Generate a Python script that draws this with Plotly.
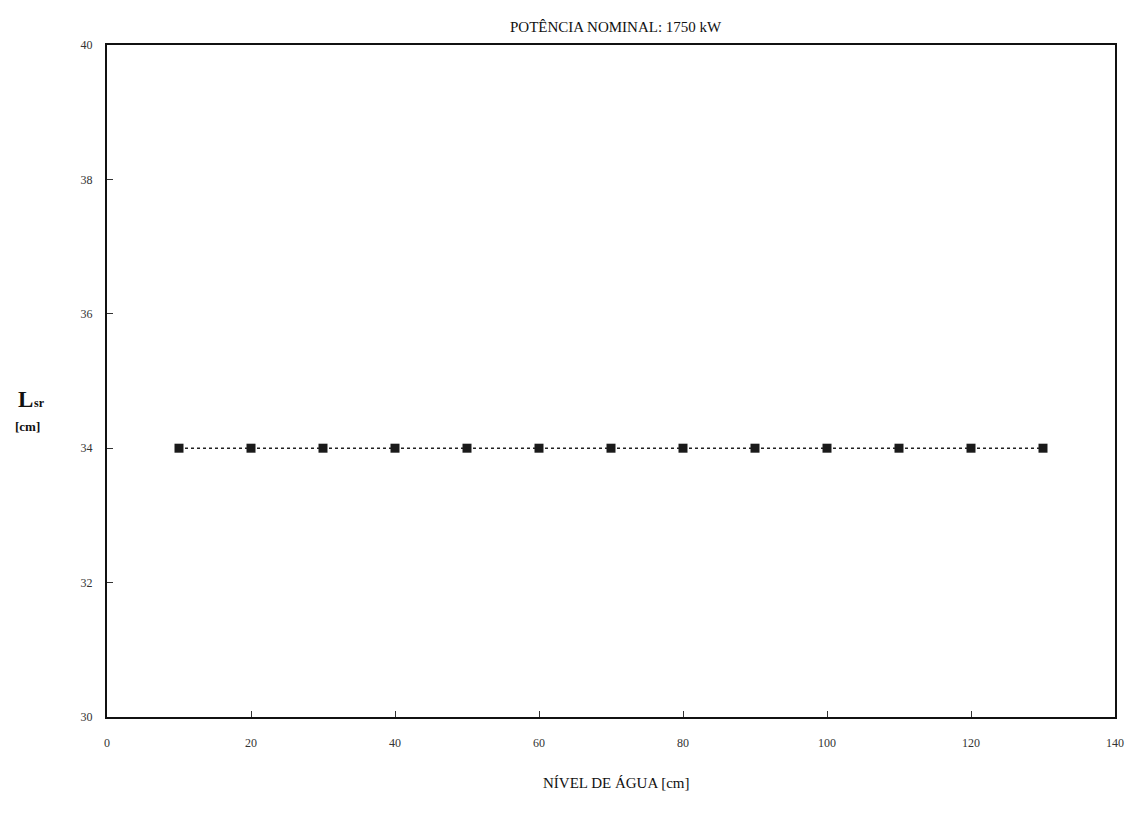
import plotly.graph_objects as go

nivel = [10, 20, 30, 40, 50, 60, 70, 80, 90, 100, 110, 120, 130]
lsr = [34, 34, 34, 34, 34, 34, 34, 34, 34, 34, 34, 34, 34]
x_ticks = [0, 20, 40, 60, 80, 100, 120, 140]
y_ticks = [30, 32, 34, 36, 38, 40]

serif = "Liberation Serif, Times New Roman, serif"

fig = go.Figure()
fig.add_trace(go.Scatter(
    x=nivel, y=lsr, mode="lines+markers",
    line=dict(color="#222222", width=1.5, dash="dot"),
    marker=dict(symbol="square", size=9, color="#1a1a1a"),
    showlegend=False,
))

fig.update_layout(
    width=1137, height=814,
    paper_bgcolor="white", plot_bgcolor="white",
    margin=dict(l=107, r=22, t=45, b=97),
    font=dict(family=serif, color="#222222", size=11),
    annotations=[
        dict(text="POTÊNCIA NOMINAL: 1750 kW", xref="paper", yref="paper",
             x=0.505, y=1.0, yshift=8, xanchor="center", yanchor="bottom",
             showarrow=False, font=dict(size=15, family=serif, color="#111111")),
        dict(text="NÍVEL DE ÁGUA [cm]", xref="paper", yref="paper",
             x=0.505, y=0, yshift=-56, xanchor="center", yanchor="top",
             showarrow=False, font=dict(size=15, family=serif, color="#111111")),
        dict(text="<b>L</b>", xref="paper", yref="paper",
             x=0, xshift=-82, y=0.473, xanchor="center", yanchor="middle",
             showarrow=False, font=dict(size=23, family=serif, color="#111111")),
        dict(text="<b>sr</b>", xref="paper", yref="paper",
             x=0, xshift=-68, y=0.467, xanchor="center", yanchor="middle",
             showarrow=False, font=dict(size=12, family=serif, color="#111111")),
        dict(text="<b>[cm]</b>", xref="paper", yref="paper",
             x=0, xshift=-80, y=0.432, xanchor="center", yanchor="middle",
             showarrow=False, font=dict(size=13, family=serif, color="#111111")),
    ],
)

fig.update_xaxes(
    range=[0, 140], tickvals=x_ticks, ticks="inside", ticklen=6,
    tickcolor="#333333", showgrid=False, zeroline=False,
    showline=True, linecolor="#111111", linewidth=2, mirror=True,
    tickfont=dict(size=12, family=serif, color="#333333"),
    ticklabelstandoff=14,
)
fig.update_yaxes(
    range=[30, 40], tickvals=y_ticks, ticks="inside", ticklen=6,
    tickcolor="#333333", showgrid=False, zeroline=False,
    showline=True, linecolor="#111111", linewidth=2, mirror=True,
    tickfont=dict(size=12, family=serif, color="#333333"),
    ticklabelstandoff=10,
)

fig.write_html("out.html")
